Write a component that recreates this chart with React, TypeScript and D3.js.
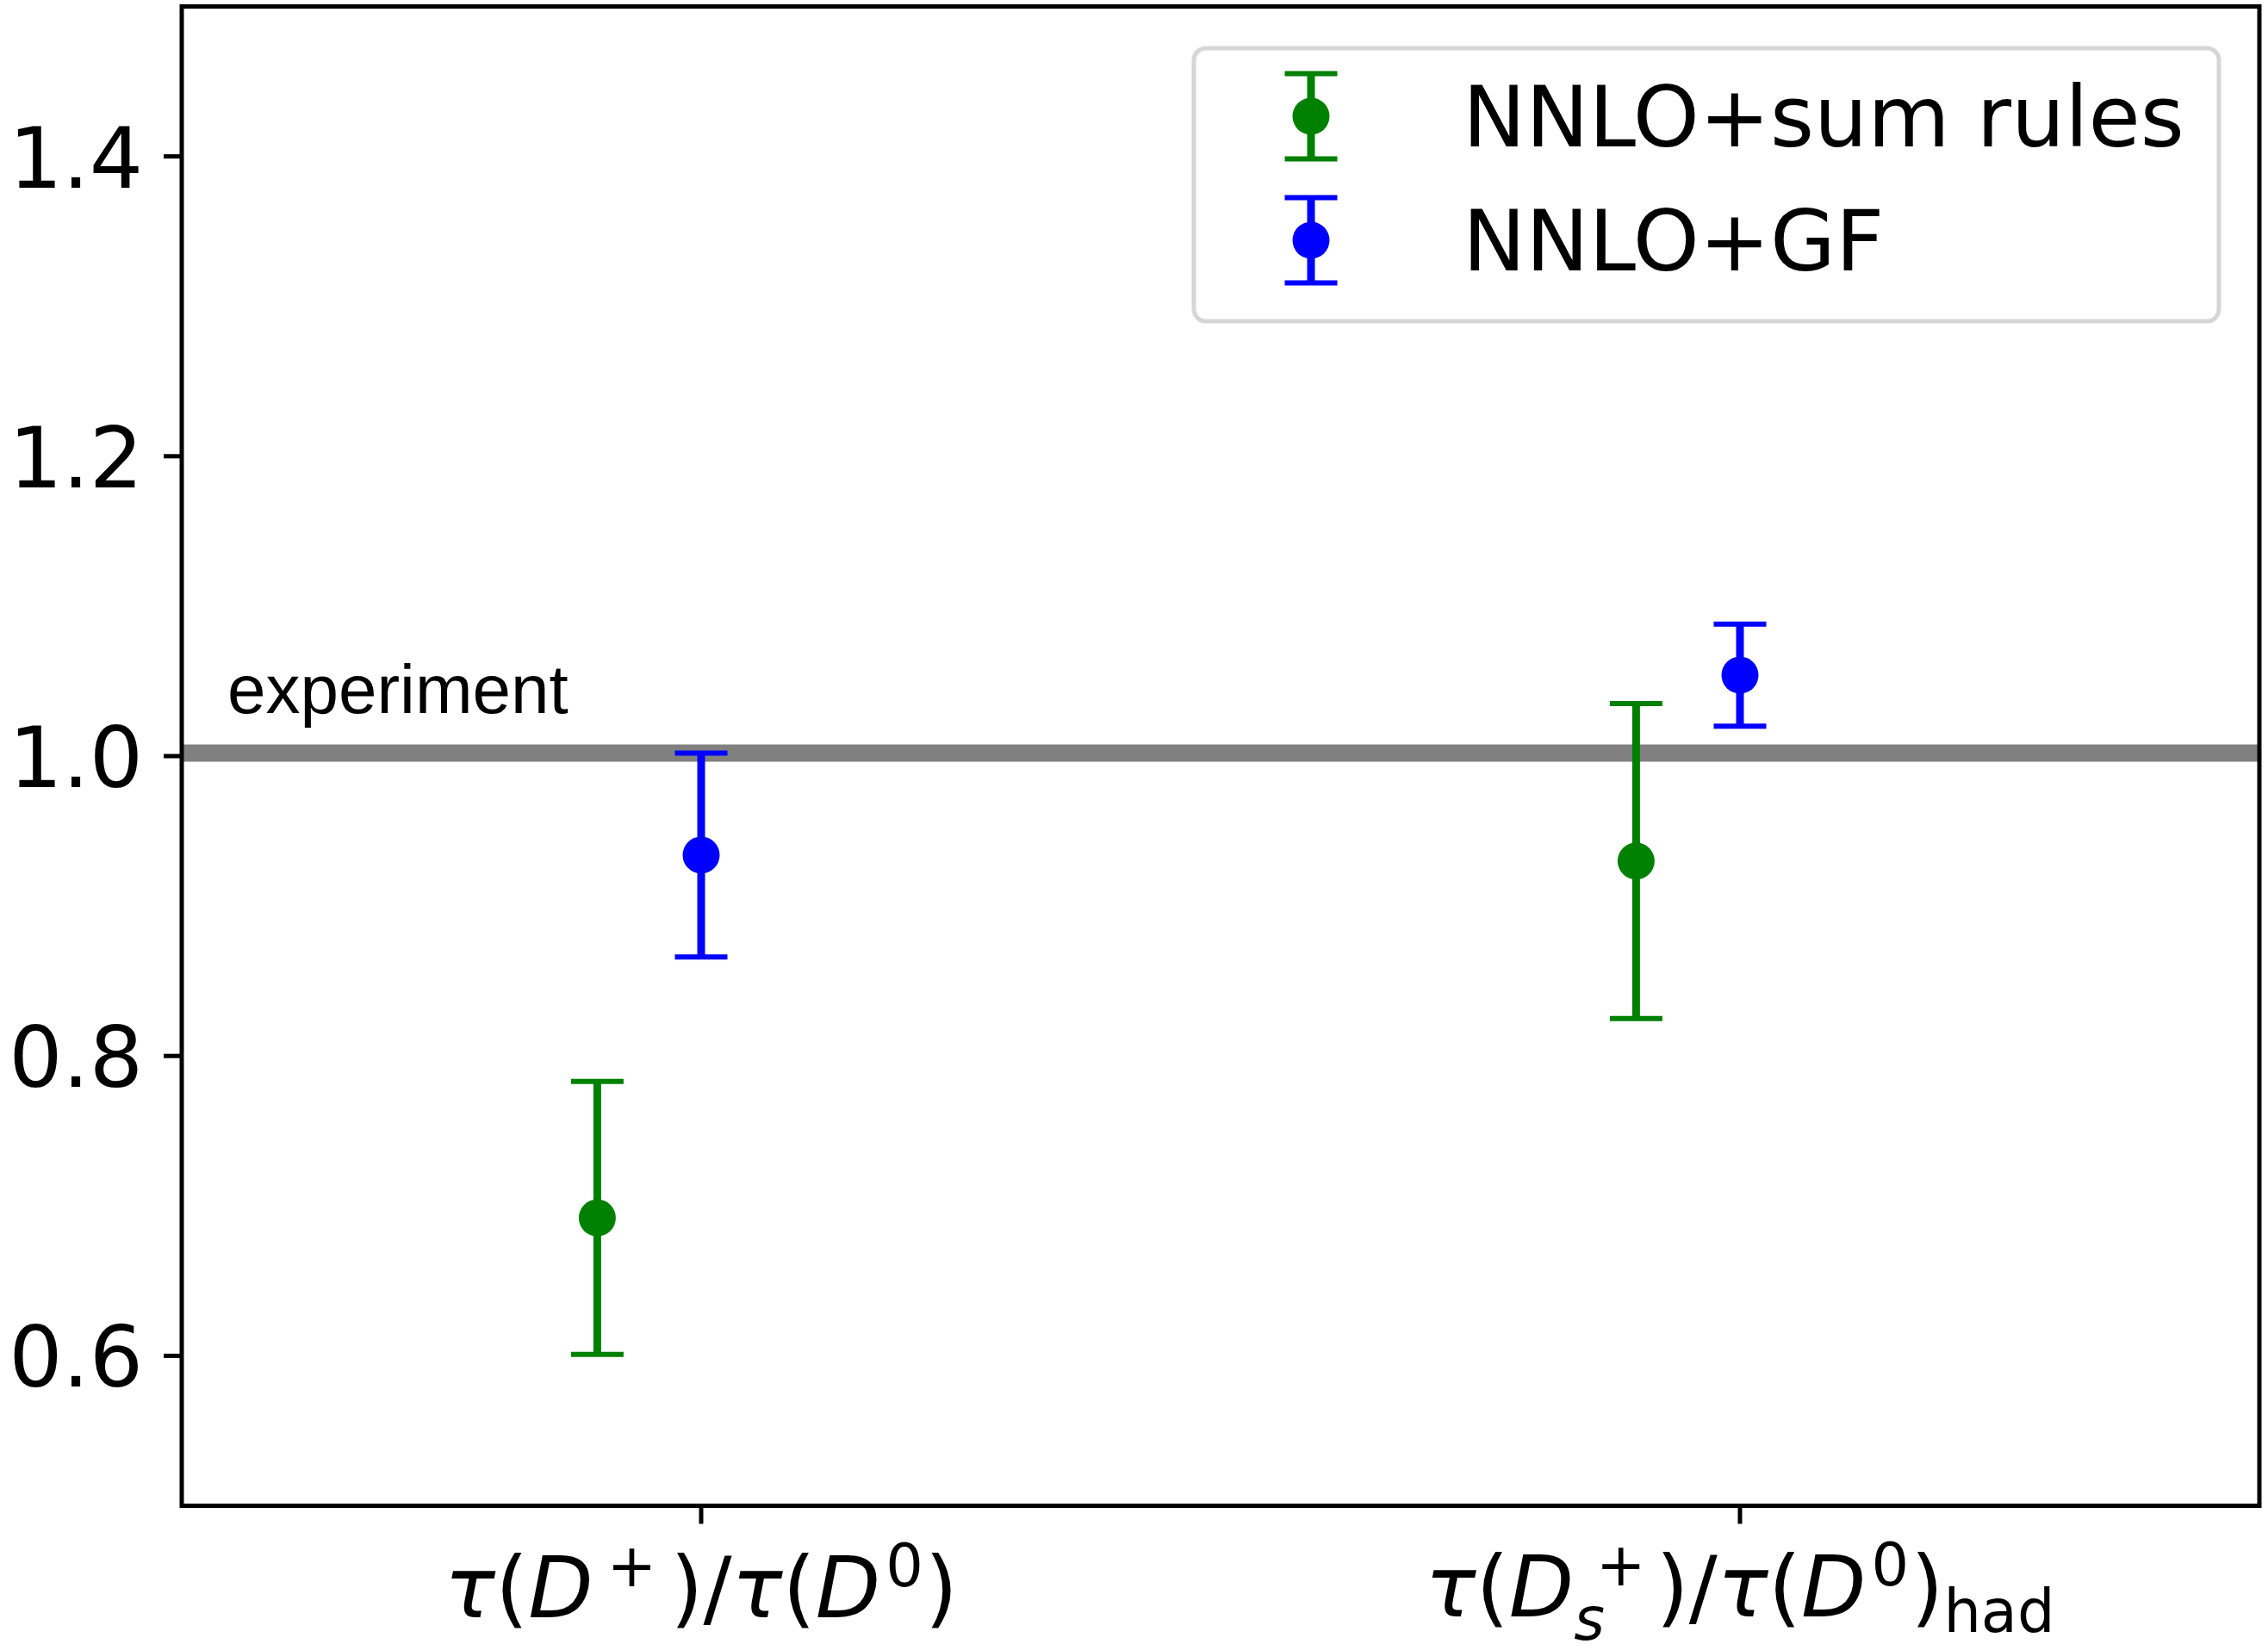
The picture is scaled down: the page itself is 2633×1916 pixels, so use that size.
import React from 'react';
import * as d3 from 'd3';

// categories on the x axis (positions 0 and 1)
const categories = ['Dplus', 'Ds'];
const seriesNames = ['NNLO+sum rules', 'NNLO+GF'];
const seriesColors = ['green', 'blue'];
const seriesOffsets = [-0.1, 0];

const sumRulesValues = [0.692, 0.93];
const sumRulesErrors = [0.091, 0.105];
const gfValues = [0.934, 1.054];
const gfErrors = [0.068, 0.034];

const experimentValue = 1.002;
const yTicks = [0.6, 0.8, 1.0, 1.2, 1.4];

const W = 2633;
const H = 1916;
const margin = { left: 211, right: W - 2623, top: 7.5, bottom: H - 1748.5 };
const FONT = 'DejaVu Sans';
const FS = 98;

const series = [
  { values: sumRulesValues, errors: sumRulesErrors },
  { values: gfValues, errors: gfErrors },
];

const x = d3.scaleLinear().domain([-0.5, 1.5]).range([margin.left, W - margin.right]);
const y = d3.scaleLinear().domain([0.5, 1.5]).range([H - margin.bottom, margin.top]);

const ErrorBar = ({ cx, cy, top, bottom, color }) => (
  <g>
    <line x1={cx} x2={cx} y1={top} y2={bottom} stroke={color} strokeWidth={9} />
    <line x1={cx - 30.5} x2={cx + 30.5} y1={top} y2={top} stroke={color} strokeWidth={6} />
    <line x1={cx - 30.5} x2={cx + 30.5} y1={bottom} y2={bottom} stroke={color} strokeWidth={6} />
    <circle cx={cx} cy={cy} r={21.5} fill={color} />
  </g>
);

const SUB = FS * 0.7;

const LabelDplus = ({ cx, cy }) => (
  <text x={cx} y={cy} textAnchor="middle" fontFamily={FONT} fontSize={FS} fill="black">
    <tspan fontStyle="italic">τ</tspan>
    <tspan>(</tspan>
    <tspan fontStyle="italic">D</tspan>
    <tspan fontSize={SUB} dx={16} dy={-36}>+</tspan>
    <tspan dx={16} dy={36}>)/</tspan>
    <tspan fontStyle="italic">τ</tspan>
    <tspan>(</tspan>
    <tspan fontStyle="italic">D</tspan>
    <tspan fontSize={SUB} dx={6} dy={-36}>0</tspan>
    <tspan dx={2} dy={36}>)</tspan>
  </text>
);

const LabelDs = ({ cx, cy }) => (
  <text x={cx} y={cy} textAnchor="middle" fontFamily={FONT} fontSize={FS} fill="black">
    <tspan fontStyle="italic">τ</tspan>
    <tspan>(</tspan>
    <tspan fontStyle="italic">D</tspan>
    <tspan fontSize={SUB} fontStyle="italic" dx={0} dy={27}>s</tspan>
    <tspan fontSize={SUB} dx={-10} dy={-63}>+</tspan>
    <tspan dx={12} dy={36}>)/</tspan>
    <tspan fontStyle="italic">τ</tspan>
    <tspan>(</tspan>
    <tspan fontStyle="italic">D</tspan>
    <tspan fontSize={SUB} dx={6} dy={-36}>0</tspan>
    <tspan dx={2} dy={36}>)</tspan>
    <tspan fontSize={SUB} dx={0} dy={18}>had</tspan>
  </text>
);

export default function App() {
  const x0 = margin.left;
  const x1 = W - margin.right;
  const y0 = margin.top;
  const y1 = H - margin.bottom;
  const legendX = 1386;
  const legendY = 56;
  const legendRows = [135, 279];

  return (
    <svg
      width={W}
      height={H}
      style={{ position: 'absolute', left: 0, top: 0, background: 'white' }}
    >
      <rect x={0} y={0} width={W} height={H} fill="white" />

      {/* experiment band */}
      <line x1={x0} x2={x1} y1={y(experimentValue)} y2={y(experimentValue)} stroke="#808080" strokeWidth={20} />
      <text x={264} y={828} fontFamily="Liberation Sans, Arial" fontSize={80} fontWeight={300} fill="black">
        experiment
      </text>

      {/* error bars */}
      {series.map((s, si) =>
        categories.map((c, ci) => {
          const v = s.values[ci];
          const e = s.errors[ci];
          return (
            <ErrorBar
              key={`${si}-${c}`}
              cx={x(ci + seriesOffsets[si])}
              cy={y(v)}
              top={y(v + e)}
              bottom={y(v - e)}
              color={seriesColors[si]}
            />
          );
        })
      )}

      {/* frame */}
      <rect x={x0} y={y0} width={x1 - x0} height={y1 - y0} fill="none" stroke="black" strokeWidth={5} />

      {/* y ticks */}
      {yTicks.map((t) => (
        <g key={t}>
          <line x1={x0 - 21} x2={x0} y1={y(t)} y2={y(t)} stroke="black" strokeWidth={5} />
          <text x={x0 - 45} y={y(t) + 36} textAnchor="end" fontFamily={FONT} fontSize={FS} fill="black">
            {d3.format('.1f')(t)}
          </text>
        </g>
      ))}

      {/* x ticks */}
      {categories.map((c, ci) => (
        <line key={c} x1={x(ci)} x2={x(ci)} y1={y1} y2={y1 + 21} stroke="black" strokeWidth={5} />
      ))}
      <LabelDplus cx={x(0)} cy={1878} />
      <LabelDs cx={x(1)} cy={1877} />

      {/* legend */}
      <rect
        x={legendX}
        y={legendY}
        width={1190}
        height={317}
        rx={14}
        fill="white"
        fillOpacity={0.8}
        stroke="#d6d6d6"
        strokeWidth={5}
      />
      {seriesNames.map((name, si) => (
        <g key={name}>
          <ErrorBar
            cx={1522}
            cy={legendRows[si]}
            top={legendRows[si] - 49.5}
            bottom={legendRows[si] + 49.5}
            color={seriesColors[si]}
          />
          <text x={1698} y={legendRows[si] + 35} fontFamily={FONT} fontSize={FS} fill="black">
            {name}
          </text>
        </g>
      ))}
    </svg>
  );
}
